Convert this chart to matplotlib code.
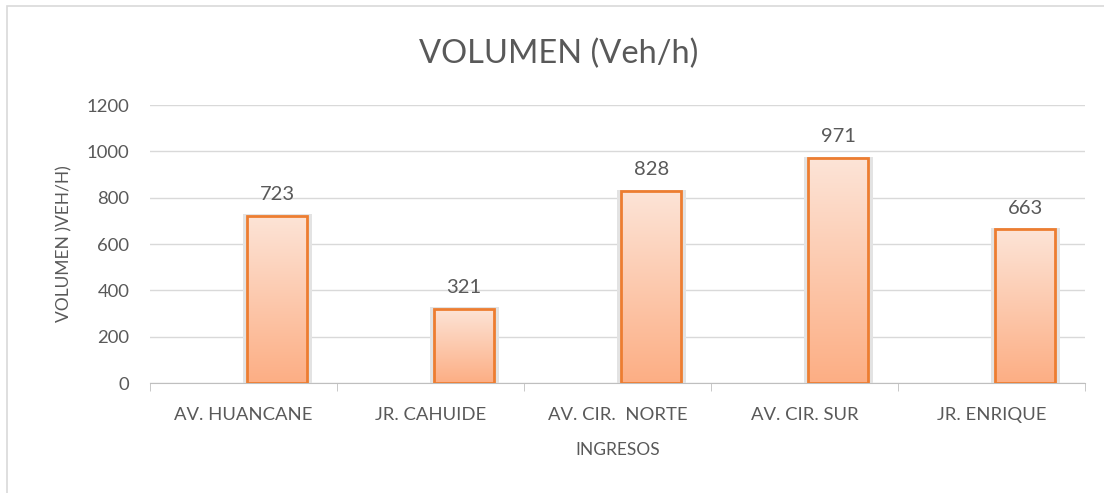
import matplotlib
matplotlib.use("Agg")
import matplotlib.pyplot as plt
import numpy as np
from matplotlib.patches import Rectangle
from matplotlib.colors import LinearSegmentedColormap

categorias = ["AV. HUANCANE", "JR. CAHUIDE", "AV. CIR.  NORTE", "AV. CIR. SUR", "JR. ENRIQUE"]
volumen = [723, 321, 828, 971, 663]
yticks = [0, 200, 400, 600, 800, 1000, 1200]

plt.rcParams['font.family'] = ['Lato', 'DejaVu Sans']
gris = '#595959'

fig = plt.figure(figsize=(11.04, 4.93), dpi=100)
ax = fig.add_axes([0.1359, 0.2231, 0.8469, 0.5639])

# borde del grafico
fig.patches.append(Rectangle((0.0065, -0.01), 1.0, 0.998, transform=fig.transFigure,
                             fill=False, edgecolor='#d9d9d9', linewidth=1.2))

cmap = LinearSegmentedColormap.from_list('naranja', ['#fcae84', '#fde4d7'])
grad = np.linspace(0, 1, 256).reshape(-1, 1)

ancho = 0.32
desp = 0.18
x = np.arange(len(categorias))
for xi, v in zip(x, volumen):
    x0 = xi + desp - ancho / 2
    # sombra
    sombra = Rectangle((x0 - 0.025, -4), ancho + 0.05, v + 10, facecolor='#e3e3e3',
                       edgecolor='none', zorder=2)
    ax.add_patch(sombra)
    im = ax.imshow(grad, extent=[x0, x0 + ancho, 0, v], origin='lower', cmap=cmap,
                   aspect='auto', zorder=3)
    borde = Rectangle((x0, 0), ancho, v, facecolor='none', edgecolor='#ed7d31',
                      linewidth=2, zorder=4)
    ax.add_patch(borde)
    im.set_clip_path(borde)
    ax.text(xi + desp, v + 55, str(v), ha='center', va='bottom', fontsize=14.5, color=gris)

ax.set_xlim(-0.5, len(categorias) - 0.5)
ax.set_ylim(0, 1200)
ax.set_yticks(yticks)
ax.set_xticks(x)
ax.set_xticklabels(categorias)
ax.set_xticks(np.arange(-0.5, len(categorias)), minor=True)
ax.tick_params(axis='x', which='major', length=0, pad=17, labelsize=13.3, labelcolor=gris)
ax.tick_params(axis='x', which='minor', length=6, color='#bfbfbf')
ax.tick_params(axis='y', length=0, pad=15, labelsize=13.3, labelcolor=gris)
ax.grid(axis='y', color='#d9d9d9', linewidth=1, zorder=0)
ax.set_axisbelow(True)
for s in ['top', 'right', 'left']:
    ax.spines[s].set_visible(False)
ax.spines['bottom'].set_color('#bfbfbf')

fig.text(0.506, 0.891, 'VOLUMEN (Veh/h)', fontsize=23.5, color=gris, ha='center',
         va='center')
ax.set_ylabel('VOLUMEN )VEH/H)', fontsize=12.5, color=gris, labelpad=10)
ax.set_xlabel('INGRESOS', fontsize=12.5, color=gris, labelpad=14)

fig.savefig('out.png', dpi=100)
